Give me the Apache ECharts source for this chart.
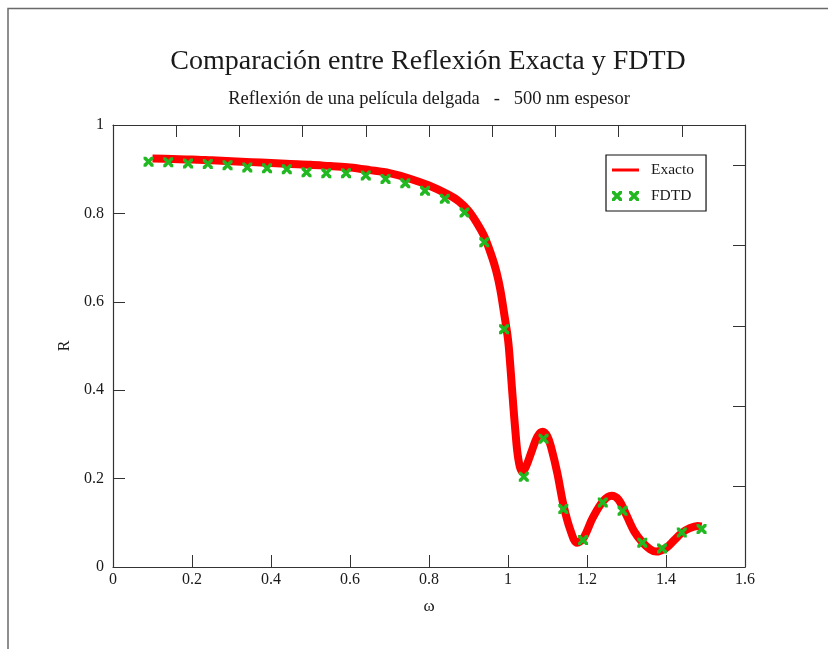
<!DOCTYPE html>
<html>
<head>
<meta charset="utf-8">
<title>Comparación entre Reflexión Exacta y FDTD</title>
<script src="https://cdn.jsdelivr.net/npm/echarts@6/dist/echarts.min.js"></script>
<style>
  html, body { margin: 0; padding: 0; background: #ffffff; }
  #chart { width: 828px; height: 649px; }
</style>
</head>
<body>
<div id="chart"></div>
<script>
// Exact reflectance of a 500 nm thin film versus normalised frequency
const omegaExact = [
  0.10, 0.15, 0.20, 0.25, 0.30, 0.35, 0.40, 0.45, 0.50, 0.55,
  0.60, 0.65, 0.70, 0.75, 0.80, 0.85, 0.875, 0.90, 0.92, 0.94,
  0.96, 0.97, 0.98, 0.99, 1.00, 1.005, 1.01, 1.018, 1.026, 1.036,
  1.045, 1.06, 1.075, 1.088, 1.10, 1.11, 1.125, 1.14, 1.157, 1.175,
  1.19, 1.215, 1.24, 1.262, 1.28, 1.30, 1.32, 1.34, 1.36, 1.375,
  1.40, 1.42, 1.44, 1.46, 1.48, 1.49
];
const reflExact = [
  0.924, 0.923, 0.922, 0.920, 0.918, 0.916, 0.914, 0.912, 0.910, 0.907,
  0.904, 0.898, 0.891, 0.879, 0.863, 0.842, 0.828, 0.806, 0.780, 0.748,
  0.700, 0.670, 0.630, 0.575, 0.515, 0.465, 0.405, 0.315, 0.245, 0.216,
  0.226, 0.262, 0.296, 0.306, 0.295, 0.268, 0.212, 0.142, 0.086, 0.055,
  0.064, 0.112, 0.148, 0.161, 0.152, 0.117, 0.080, 0.056, 0.040, 0.035,
  0.043, 0.060, 0.077, 0.088, 0.093, 0.092
];

// FDTD simulation samples
const omegaFdtd = [
  0.09, 0.14, 0.19, 0.24, 0.29, 0.34, 0.39, 0.44, 0.49, 0.54,
  0.59, 0.64, 0.69, 0.74, 0.79, 0.84, 0.89, 0.94, 0.99, 1.04,
  1.09, 1.14, 1.19, 1.24, 1.29, 1.34, 1.39, 1.44, 1.49
];
const reflFdtd = [
  0.917, 0.916, 0.913, 0.912, 0.909, 0.904, 0.902, 0.900, 0.893, 0.891,
  0.891, 0.886, 0.878, 0.868, 0.851, 0.833, 0.802, 0.735, 0.538, 0.204,
  0.290, 0.131, 0.061, 0.146, 0.127, 0.055, 0.042, 0.078, 0.086
];

const seriesNames = ['Exacto', 'FDTD'];
const titleText = 'Comparación entre Reflexión Exacta y FDTD';
const subtitleText = 'Reflexión de una película delgada   -   500 nm espesor';

const serif = '"Liberation Serif", "DejaVu Serif", serif';
const ink = '#1a1a1a';
const axisColor = '#333333';
const red = '#ff0000';
const green = '#22b822';

const crossPath = 'path://M0,0L2.6,0L5,2.6L7.4,0L10,0L10,2.6L7.4,5L10,7.4L10,10L7.4,10L5,7.4L2.6,10L0,10L0,7.4L2.6,5L0,2.6Z';
const twoCrossPath = 'path://M0,0L2.6,0L5,2.6L7.4,0L10,0L10,2.6L7.4,5L10,7.4L10,10L7.4,10L5,7.4L2.6,10L0,10L0,7.4L2.6,5L0,2.6Z' +
  'M17,0L19.6,0L22,2.6L24.4,0L27,0L27,2.6L24.4,5L27,7.4L27,10L24.4,10L22,7.4L19.6,10L17,10L17,7.4L19.6,5L17,2.6Z';
const barPath = 'path://M0,0L27,0L27,3L0,3Z';

const exactData = omegaExact.map((w, i) => [w, reflExact[i]]);
const fdtdData = omegaFdtd.map((w, i) => [w, reflFdtd[i]]);

const tickStyle = { inside: true, length: 12, lineStyle: { color: axisColor, width: 1 } };
const lineStyle = { onZero: false, lineStyle: { color: axisColor, width: 1.2 } };

const chart = echarts.init(document.getElementById('chart'), null, { renderer: 'canvas' });
chart.setOption({
  backgroundColor: '#ffffff',
  animation: false,
  title: [
    {
      text: titleText,
      left: 428, top: 48, padding: 0,
      textAlign: 'center', textVerticalAlign: 'top',
      textStyle: { fontFamily: serif, fontSize: 28, fontWeight: 'normal', color: ink }
    },
    {
      text: subtitleText,
      left: 429, top: 90, padding: 0,
      textAlign: 'center', textVerticalAlign: 'top',
      textStyle: { fontFamily: serif, fontSize: 18.5, fontWeight: 'normal', color: ink }
    }
  ],
  graphic: [
    {
      type: 'polyline',
      shape: { points: [[8, 649], [8, 8.5], [828, 8.5]] },
      style: { stroke: '#6a6a6a', lineWidth: 1.5, fill: null },
      silent: true
    }
  ],
  legend: {
    left: 606, top: 155,
    orient: 'vertical',
    padding: [7, 12, 7, 6],
    itemGap: 10,
    itemWidth: 27, itemHeight: 12,
    borderColor: '#111111', borderWidth: 1.2,
    backgroundColor: '#ffffff',
    textStyle: { fontFamily: serif, fontSize: 15.5, color: ink, padding: [0, 0, 0, 7] },
    data: [
      { name: seriesNames[0], icon: barPath, itemStyle: { color: red } },
      { name: seriesNames[1], icon: twoCrossPath, itemStyle: { color: green } }
    ]
  },
  grid: { left: 113, top: 125, width: 632, height: 442, containLabel: false },
  xAxis: [
    {
      type: 'value', min: 0, max: 1.6, interval: 0.2,
      position: 'bottom',
      name: 'ω', nameLocation: 'middle', nameGap: 31,
      nameTextStyle: { fontFamily: serif, fontSize: 17, color: ink },
      axisLine: lineStyle, axisTick: tickStyle,
      axisLabel: { fontFamily: serif, fontSize: 16, color: ink, margin: 5 },
      splitLine: { show: false }
    },
    {
      type: 'value', min: 0, max: 10, interval: 1,
      position: 'top',
      axisLine: lineStyle, axisTick: tickStyle,
      axisLabel: { show: false }, splitLine: { show: false }
    }
  ],
  yAxis: [
    {
      type: 'value', min: 0, max: 1, interval: 0.2,
      position: 'left',
      name: 'R', nameLocation: 'middle', nameGap: 36, nameRotate: 90,
      nameTextStyle: { fontFamily: serif, fontSize: 16, color: ink },
      axisLine: lineStyle, axisTick: tickStyle,
      axisLabel: { fontFamily: serif, fontSize: 16, color: ink, margin: 9 },
      splitLine: { show: false }
    },
    {
      type: 'value', min: 0, max: 1.1, interval: 0.2,
      position: 'right',
      axisLine: lineStyle, axisTick: tickStyle,
      axisLabel: { show: false }, splitLine: { show: false }
    }
  ],
  series: [
    {
      name: seriesNames[0],
      type: 'line',
      xAxisIndex: 0, yAxisIndex: 0,
      data: exactData,
      smooth: 0.35,
      showSymbol: false,
      symbol: 'none',
      lineStyle: { color: red, width: 8, cap: 'butt', join: 'round' },
      itemStyle: { color: red },
      z: 2
    },
    {
      name: seriesNames[1],
      type: 'scatter',
      xAxisIndex: 0, yAxisIndex: 0,
      data: fdtdData,
      symbol: crossPath,
      symbolSize: 10,
      itemStyle: { color: green, opacity: 1 },
      z: 3
    }
  ]
});
</script>
</body>
</html>
